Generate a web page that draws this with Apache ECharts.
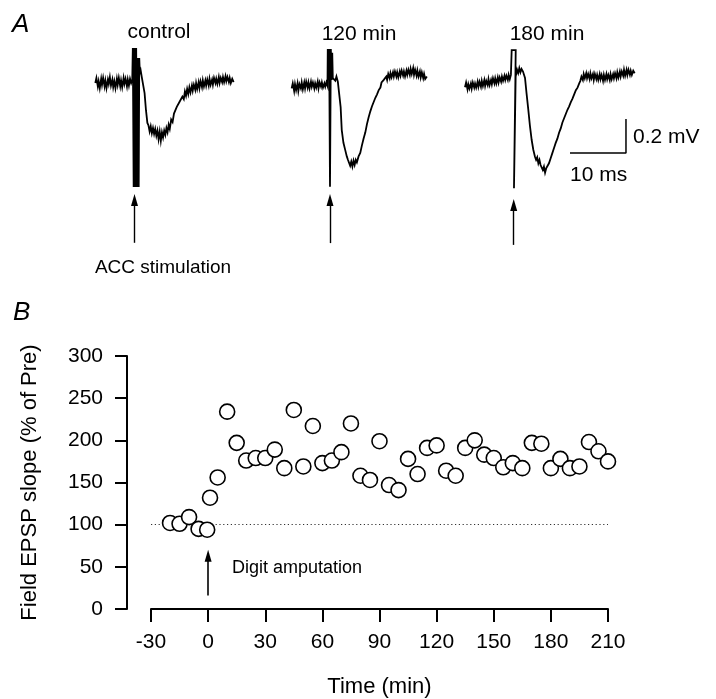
<!DOCTYPE html>
<html>
<head>
<meta charset="utf-8">
<script src="https://cdn.jsdelivr.net/npm/echarts@6/dist/echarts.min.js"></script>
<style>
html,body{margin:0;padding:0;background:#fff;}
#chart{width:716px;height:699px;}
</style>
</head>
<body>
<div id="chart"></div>
<script>
// ---------- Panel B data ----------
const timeMin = [-20,-15,-10,-5,-0.5,1,5,10,15,20,25,30,35,40,45,50,55,60,65,70,75,80,85,90,95,
  100,105,110,115,120,125,130,135,140,145,150,155,160,165,170,175,180,185,190,195,200,205,210];
const slopePct = [102,101,109,95,94,132,156,234,197,176,179,179,189,167,236,169,217,173,176,186,220,158,153,199,147,
  141,178,160,191,194,164,158,191,200,183,179,168,173,167,197,196,167,178,167,169,198,187,175];
const xTickMin = -30, xTickMax = 210, xTickStep = 30;
const yTickMin = 0, yTickMax = 300, yTickStep = 50;
const baselinePct = 100;
const amputationTime = 0;
const amputationArrow = [16, 63]; // tail, tip (% units)

// ---------- Panel A data (ms after stimulus, mV relative to baseline) ----------
const traceLabels = ['control', '120 min', '180 min'];
const controlTrace = [
 [-7.0,0.00],[-6.8,0.03],[-6.55,-0.02],[-6.4,0.01],[-6.2,-0.03],[-5.95,0.025],[-5.8,-0.01],[-5.6,0.03],[-5.35,-0.02],[-5.2,0.015],
 [-5.0,-0.03],[-4.75,0.02],[-4.6,-0.005],[-4.4,0.035],[-4.2,-0.015],[-3.95,0.02],[-3.8,-0.025],[-3.6,0.01],[-3.4,-0.03],[-3.15,0.025],
 [-3.0,-0.01],[-2.8,0.03],[-2.55,-0.02],[-2.4,0.015],[-2.2,-0.025],[-1.95,0.03],[-1.8,-0.005],[-1.6,0.025],[-1.35,-0.02],[-1.2,0.02],
 [-1.0,-0.015],[-0.8,0.025],[-0.6,0.0],[-0.4,0.02],
 [-0.3,0.206],[-0.15,-0.612],[0.0,0.206],[0.15,-0.612],[0.3,0.206],[0.45,-0.612],[0.6,0.147],[0.75,-0.612],[0.85,0.147],[0.95,0.06],
 [1.1,0.075],[1.3,0.035],[1.55,0.045],[1.8,-0.06],[2.05,-0.16],[2.3,-0.235],[2.5,-0.25],[2.7,-0.285],[2.9,-0.255],[3.1,-0.295],
 [3.3,-0.265],[3.5,-0.30],[3.7,-0.27],[3.9,-0.31],[4.1,-0.28],[4.3,-0.33],[4.5,-0.285],[4.7,-0.34],[4.9,-0.29],[5.1,-0.32],
 [5.3,-0.28],[5.5,-0.305],[5.7,-0.265],[5.9,-0.29],[6.1,-0.245],[6.3,-0.27],[6.55,-0.215],[6.8,-0.23],[7.05,-0.18],[7.3,-0.19],
 [7.55,-0.14],[7.8,-0.15],[8.05,-0.11],[8.3,-0.115],[8.55,-0.08],[8.8,-0.095],[9.0,-0.05],[9.2,-0.075],[9.4,-0.035],[9.6,-0.065],
 [9.8,-0.025],[10.0,-0.055],[10.25,-0.015],[10.4,-0.045],[10.6,-0.01],[10.85,-0.04],[11.0,0.0],[11.2,-0.035],[11.45,0.005],[11.6,-0.03],
 [11.8,0.01],[12.05,-0.025],[12.2,0.015],[12.4,-0.02],[12.65,0.015],[12.8,-0.015],[13.0,0.02],[13.25,-0.015],[13.4,0.025],[13.6,-0.01],
 [13.85,0.02],[14.0,-0.01],[14.2,0.03],[14.45,0.0],[14.6,0.025],[14.8,-0.005],[15.05,0.035],[15.2,0.0],[15.4,0.03],[15.65,0.005],
 [15.8,0.035],[16.0,0.005],[16.25,0.04],[16.4,0.01],[16.6,0.035],[16.85,0.005],[17.0,0.03],[17.2,0.0],[17.45,0.025],[17.7,0.005]
];
const min120Trace = [
 [-6.85,-0.01],[-6.65,0.02],[-6.4,-0.025],[-6.25,0.015],[-6.05,-0.02],[-5.8,0.02],[-5.65,-0.025],[-5.45,0.015],[-5.2,-0.01],[-5.05,0.025],
 [-4.85,-0.015],[-4.6,0.025],[-4.45,-0.01],[-4.25,0.03],[-4.0,-0.005],[-3.85,0.025],[-3.65,-0.01],[-3.4,0.03],[-3.25,0.0],[-3.05,0.025],
 [-2.8,-0.01],[-2.65,0.02],[-2.45,-0.005],[-2.2,0.03],[-2.05,-0.01],[-1.85,0.025],[-1.6,0.0],[-1.45,0.025],[-1.25,-0.005],[-1.0,0.02],
 [-0.85,0.0],[-0.65,0.025],[-0.45,0.005],
 [-0.4,0.222],[-0.3,0.04],[-0.15,0.222],[0.0,-0.588],[0.15,0.222],[0.3,0.04],[0.4,0.2],[0.5,0.05],
 [0.75,0.06],[0.95,0.035],[1.15,0.06],[1.4,0.03],[1.66,0.02],[1.9,-0.12],[2.1,-0.255],[2.4,-0.33],[2.7,-0.37],[3.0,-0.41],
 [3.2,-0.43],[3.4,-0.42],[3.6,-0.465],[3.8,-0.44],[4.0,-0.47],[4.2,-0.435],[4.4,-0.46],[4.6,-0.43],[4.8,-0.445],[5.1,-0.41],
 [5.4,-0.39],[5.7,-0.345],[6.0,-0.305],[6.3,-0.27],[6.6,-0.22],[6.9,-0.18],[7.2,-0.145],[7.5,-0.115],[7.8,-0.09],[8.1,-0.065],
 [8.4,-0.045],[8.7,-0.02],[9.0,-0.005],[9.2,0.025],[9.45,0.015],[9.6,0.04],[9.8,0.03],[10.05,0.06],[10.2,0.04],[10.4,0.075],
 [10.65,0.05],[10.8,0.08],[11.0,0.055],[11.25,0.085],[11.4,0.06],[11.6,0.09],[11.85,0.06],[12.0,0.085],[12.2,0.055],[12.45,0.09],
 [12.6,0.065],[12.8,0.095],[13.05,0.065],[13.2,0.09],[13.4,0.06],[13.65,0.095],[13.8,0.07],[14.0,0.1],[14.25,0.07],[14.4,0.105],
 [14.6,0.075],[14.85,0.11],[15.0,0.07],[15.2,0.1],[15.45,0.065],[15.6,0.095],[15.8,0.06],[16.05,0.09],[16.2,0.055],[16.4,0.085],
 [16.65,0.05],[16.8,0.075],[17.0,0.045],[17.3,0.06]
];
const min180Trace = [
 [-8.7,-0.043],[-8.5,-0.015],[-8.25,-0.055],[-8.1,-0.025],[-7.9,-0.05],[-7.65,-0.02],[-7.5,-0.05],[-7.3,-0.015],[-7.05,-0.045],[-6.9,-0.02],
 [-6.7,-0.045],[-6.45,-0.01],[-6.3,-0.04],[-6.1,-0.01],[-5.85,-0.04],[-5.7,-0.005],[-5.5,-0.035],[-5.25,0.0],[-5.1,-0.035],[-4.9,-0.005],
 [-4.65,-0.03],[-4.5,0.005],[-4.3,-0.03],[-4.05,0.0],[-3.9,-0.025],[-3.7,0.01],[-3.45,-0.02],[-3.3,0.01],[-3.1,-0.02],[-2.85,0.015],
 [-2.7,-0.015],[-2.5,0.015],[-2.25,-0.01],[-2.1,0.02],[-1.9,-0.005],[-1.65,0.025],[-1.5,0.0],[-1.3,0.025],[-1.05,0.0],[-0.9,0.03],
 [-0.7,0.005],[-0.5,0.03],[-0.4,0.02],
 [-0.36,0.176],[0.36,0.176],[0.3,0.0],[0.1,0.0],[0.05,-0.637],[0.15,-0.637],[0.35,0.02],
 [0.6,0.06],[0.8,0.04],[1.0,0.07],[1.2,0.045],[1.4,0.065],[1.66,0.05],[2.02,0.012],[2.3,-0.08],[2.61,-0.176],[2.9,-0.27],
 [3.21,-0.353],[3.5,-0.41],[3.8,-0.451],[4.0,-0.47],[4.2,-0.455],[4.4,-0.49],[4.6,-0.47],[4.8,-0.5],[5.0,-0.49],[5.2,-0.53],
 [5.4,-0.51],[5.6,-0.545],[5.8,-0.52],[6.0,-0.52],[6.3,-0.49],[6.6,-0.46],[6.9,-0.43],[7.2,-0.4],[7.5,-0.37],[7.8,-0.345],
 [8.1,-0.31],[8.4,-0.285],[8.7,-0.25],[9.0,-0.225],[9.3,-0.2],[9.6,-0.175],[9.9,-0.155],[10.2,-0.13],[10.5,-0.11],[10.8,-0.085],
 [11.1,-0.06],[11.4,-0.045],[11.7,-0.02],[11.9,-0.005],[12.1,0.02],[12.35,0.0],[12.5,0.035],[12.7,0.01],[12.95,0.04],[13.1,0.01],
 [13.3,0.035],[13.55,0.005],[13.7,0.04],[13.9,0.01],[14.15,0.035],[14.3,0.0],[14.5,0.035],[14.75,0.005],[14.9,0.03],[15.1,0.0],
 [15.35,0.035],[15.5,0.005],[15.7,0.03],[15.95,-0.005],[16.1,0.03],[16.3,0.0],[16.55,0.035],[16.7,0.005],[16.9,0.03],[17.15,0.0],
 [17.3,0.035],[17.5,0.005],[17.75,0.035],[17.9,0.01],[18.1,0.04],[18.35,0.01],[18.5,0.045],[18.7,0.015],[18.95,0.05],[19.1,0.02],
 [19.3,0.05],[19.55,0.025],[19.7,0.06],[19.9,0.025],[20.15,0.06],[20.3,0.03],[20.5,0.06],[20.75,0.03],[20.9,0.055],[21.1,0.03],
 [21.35,0.055],[21.6,0.04]
];
const stimArrows = [[-0.94,-0.688],[-0.92,-0.666],[-0.97,-0.735]]; // tail, tip (mV units)
const scaleBarMs = 10, scaleBarMv = 0.2;

// ---------- layout ----------
const FONT = '"Liberation Sans", Arial, Helvetica, sans-serif';
const traces = [controlTrace, min120Trace, min180Trace];
const traceGrids = [
  {left: 78.5, top: 32},
  {left: 274, top: 35.7},
  {left: 457.7, top: 29}
];
const scaleOrigin = [10.05, -0.43];

const chart = echarts.init(document.getElementById('chart'), null, {renderer: 'canvas'});

const grids = [{left: 151, right: 108, top: 356, height: 253, containLabel: false}];
const xAxes = [{
  gridIndex: 0, type: 'value', min: xTickMin, max: xTickMax, interval: xTickStep,
  axisLine: {onZero: false, lineStyle: {color: '#000', width: 2}},
  axisTick: {length: 13, lineStyle: {color: '#000', width: 2}},
  axisLabel: {color: '#000', fontSize: 21, fontFamily: FONT, margin: 23},
  splitLine: {show: false},
  name: 'Time (min)', nameLocation: 'middle', nameGap: 67,
  nameTextStyle: {color: '#000', fontSize: 22, fontFamily: FONT}
}];
const yAxes = [{
  gridIndex: 0, type: 'value', min: yTickMin, max: yTickMax, interval: yTickStep, offset: 24,
  axisLine: {show: true, onZero: false, lineStyle: {color: '#000', width: 2}},
  axisTick: {show: true, length: 12, lineStyle: {color: '#000', width: 2}},
  axisLabel: {color: '#000', fontSize: 21, fontFamily: FONT, margin: 24},
  splitLine: {show: false},
  name: 'Field EPSP slope (% of Pre)', nameLocation: 'middle', nameGap: 86,
  nameTextStyle: {color: '#000', fontSize: 22, fontFamily: FONT}
}];

const series = [
  {
    type: 'scatter', xAxisIndex: 0, yAxisIndex: 0, z: 3,
    data: timeMin.map((t, i) => [t, slopePct[i]]),
    symbol: 'circle', symbolSize: 15,
    itemStyle: {color: '#fff', borderColor: '#000', borderWidth: 1.6, opacity: 1},
    markLine: {
      silent: true, z: 1, symbol: ['none', 'none'], animation: false,
      label: {show: false},
      lineStyle: {color: '#333', type: [1.2, 2.6], width: 1.2},
      data: [{yAxis: baselinePct}]
    }
  },
  {
    type: 'line', xAxisIndex: 0, yAxisIndex: 0, data: [], z: 2,
    markLine: {
      silent: true, animation: false, symbol: ['none', 'triangle'], symbolSize: [7, 12],
      label: {show: false},
      lineStyle: {color: '#000', type: 'solid', width: 1.6},
      data: [[{coord: [amputationTime, amputationArrow[0]]}, {coord: [amputationTime, amputationArrow[1]]}]]
    }
  }
];

traces.forEach((tr, k) => {
  const gi = k + 1;
  grids.push({left: traceGrids[k].left, top: traceGrids[k].top, width: 196, height: 221});
  xAxes.push({gridIndex: gi, type: 'value', min: -10, max: 25, show: false});
  yAxes.push({gridIndex: gi, type: 'value', min: -1.0, max: 0.3, show: false});
  series.push({
    type: 'line', xAxisIndex: gi, yAxisIndex: gi, data: tr,
    showSymbol: false, symbol: 'none', clip: false,
    lineStyle: {color: '#000', width: 1.8, join: 'miter'},
    markLine: {
      silent: true, animation: false, symbol: ['none', 'triangle'], symbolSize: [7, 12],
      label: {show: false},
      lineStyle: {color: '#000', type: 'solid', width: 1.4},
      data: [[{coord: [0, stimArrows[k][0]]}, {coord: [0, stimArrows[k][1]]}]]
    }
  });
});

// scale bar in the 180 min panel
series.push({
  type: 'line', xAxisIndex: 3, yAxisIndex: 3, showSymbol: false, symbol: 'none', clip: false,
  lineStyle: {color: '#000', width: 1.5},
  data: [
    [scaleOrigin[0], scaleOrigin[1]],
    [scaleOrigin[0] + scaleBarMs, scaleOrigin[1]],
    [scaleOrigin[0] + scaleBarMs, scaleOrigin[1] + scaleBarMv]
  ]
});

function txt(text, x, y, size, align, italic) {
  return {
    type: 'text', x: x, y: y, silent: true,
    style: {
      text: text, fill: '#000', align: align || 'left', verticalAlign: 'middle',
      font: (italic ? 'italic ' : '') + size + 'px ' + FONT
    }
  };
}

const option = {
  animation: false,
  backgroundColor: '#fff',
  grid: grids,
  xAxis: xAxes,
  yAxis: yAxes,
  series: series,
  graphic: [
    txt('A', 12, 25, 26, 'left', true),
    txt('B', 13, 313, 26, 'left', true),
    txt(traceLabels[0], 159, 32, 21, 'center'),
    txt(traceLabels[1], 359, 34, 21, 'center'),
    txt(traceLabels[2], 547, 34, 21, 'center'),
    txt('ACC stimulation', 163, 268, 19, 'center'),
    txt('0.2 mV', 633, 137, 21, 'left'),
    txt('10 ms', 570, 175, 21, 'left'),
    txt('Digit amputation', 232, 568, 18, 'left')
  ]
};
chart.setOption(option);
</script>
</body>
</html>
